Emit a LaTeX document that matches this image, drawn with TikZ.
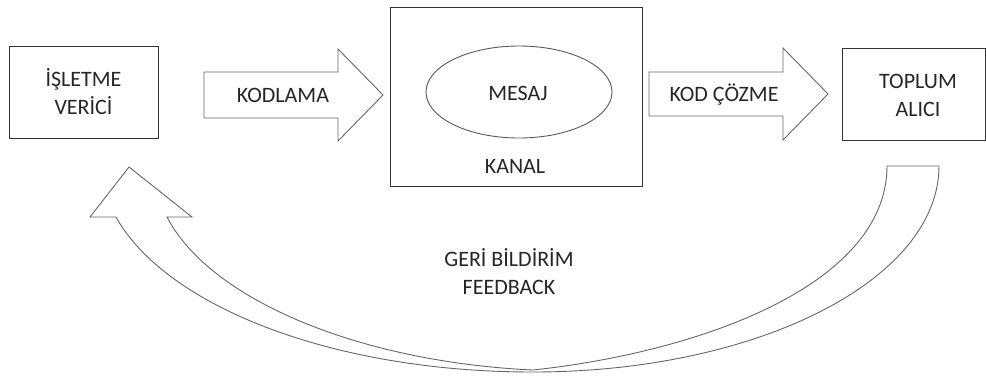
\documentclass[tikz,border=0pt]{standalone}
\usepackage{fontspec}
\setmainfont{Carlito}
\usetikzlibrary{shapes.geometric}
\begin{document}
\begin{tikzpicture}[x=1pt,y=-1pt,
  box/.style={draw=black!80, line width=0.9pt, rectangle, inner sep=0pt},
  oval/.style={draw=black!65, line width=0.9pt, ellipse, inner sep=0pt},
  blockarrow/.style={draw=black!60, line width=0.9pt, line join=miter},
  caption/.style={font=\fontsize{22}{28}\selectfont, text=black!85, align=center, inner sep=0pt},
]
\useasboundingbox (0,0) rectangle (986,376);

% sender
\node[box, minimum width=149pt, minimum height=92pt] (sender) at (83.5,92) {};
\node[caption] (sendertext) at (83.5,92) {İŞLETME\\VERİCİ};

% channel with the message inside
\node[box, minimum width=252pt, minimum height=179pt] (channel) at (516,96.5) {};
\node[oval, minimum width=186pt, minimum height=92pt] (message) at (519,92) {};
\node[caption, anchor=base] (messagetext) at (518,100) {MESAJ};
\node[caption, anchor=base] (channeltext) at (515,173) {KANAL};

% receiver
\node[box, minimum width=143pt, minimum height=92pt] (receiver) at (913.5,94) {};
\node[caption] (receivertext) at (918,95) {TOPLUM\\ALICI};

% encoding block arrow
\draw[blockarrow] (204,72) -- (338,72) -- (338,49) -- (383,95) -- (338,141)
  -- (338,118) -- (204,118) -- cycle;
\node[caption, anchor=base] (encode) at (283,102) {KODLAMA};

% decoding block arrow
\draw[blockarrow] (649,72) -- (783,72) -- (783,48) -- (828,94) -- (783,140)
  -- (783,116) -- (649,116) -- cycle;
\node[caption, anchor=base] (decode) at (724,101) {KOD ÇÖZME};

% curved feedback arrow from receiver back to sender
\draw[blockarrow] (887,166) -- (939,166)
  .. controls (939,280) and (757,372) .. (533,372)
  .. controls (330,372) and (165,305) .. (116,217)
  -- (90,217) -- (129,167) -- (192,217) -- (167,217)
  .. controls (210,300) and (360,362) .. (533,370)
  .. controls (700,352) and (887,285) .. (887,166) -- cycle;
\node[caption] (feedback) at (509,272) {GERİ BİLDİRİM\\FEEDBACK};
\end{tikzpicture}
\end{document}
